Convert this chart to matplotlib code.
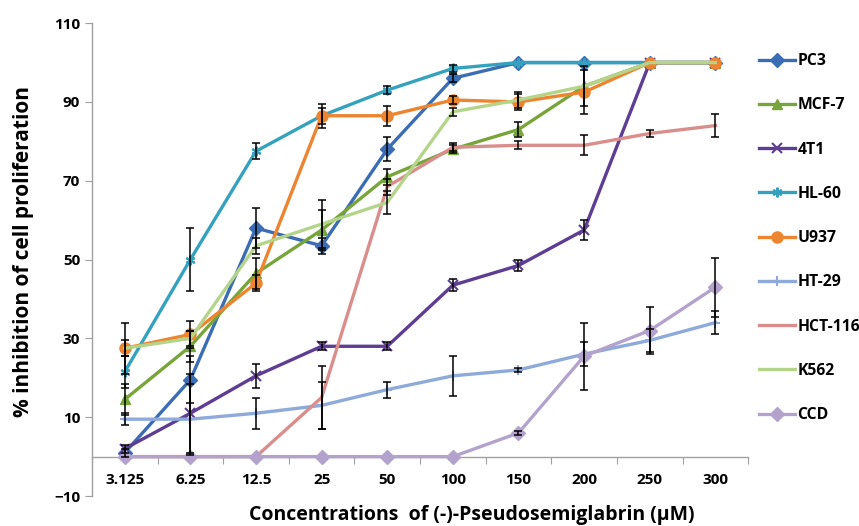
import numpy as np
import matplotlib
matplotlib.use("Agg")
import matplotlib.pyplot as plt

# Concentrations (categorical axis)
concentrations = ["3.125", "6.25", "12.5", "25", "50", "100", "150", "200", "250", "300"]

# % inhibition per cell line
pc3 = [1, 19.5, 58, 53.5, 78, 96, 100, 100, 100, 100]
mcf7 = [14.5, 28, 46.5, 57.5, 71, 78, 83, 94, 100, 100]
t41 = [2, 11, 20.5, 28, 28, 43.5, 48.5, 57.5, 100, 100]
hl60 = [21.5, 50, 77.5, 86.5, 93, 98.5, 100, 100, 100, 100]
u937 = [27.5, 31, 44, 86.5, 86.5, 90.5, 90, 92.5, 100, 100]
ht29 = [9.5, 9.5, 11, 13, 17, 20.5, 22, 26, 29.5, 34]
hct116 = [0, 0, 0, 15, 68.5, 78.5, 79, 79, 82, 84]
k562 = [27.5, 30, 53.5, 59, 64.5, 87.5, 90.5, 94, 100, 100]
ccd = [0, 0, 0, 0, 0, 0, 6, 25.5, 32, 43]

# error bars (SD)
pc3_err = [1, 6, 5, 2, 3, 1, 0, 0, 0, 0]
mcf7_err = [4, 4, 4, 5, 2, 1, 2, 0, 0, 0]
t41_err = [1, 10, 3, 1, 1, 1.5, 1.5, 2.5, 0, 0]
hl60_err = [4, 8, 2, 2, 1, 1, 0, 0, 0, 0]
u937_err = [6.5, 3.5, 2, 3, 2.5, 1, 2, 5.5, 0, 0]
ht29_err = [1.5, 9, 4, 6, 2, 5, 0.5, 3, 3, 3]
hct116_err = [0, 0, 0, 8, 2, 1, 1, 2.5, 1, 3]
k562_err = [2, 2, 2, 6, 3, 1, 2, 5, 0, 0]
ccd_err = [0, 0, 0, 0, 0, 0, 0.5, 8.5, 6, 7.5]

series = [
    ("PC3", pc3, pc3_err, "#3B6DB4", "D"),
    ("MCF-7", mcf7, mcf7_err, "#77A53A", "^"),
    ("4T1", t41, t41_err, "#5E3D92", "x"),
    ("HL-60", hl60, hl60_err, "#34A2BE", (6, 2, 0)),
    ("U937", u937, u937_err, "#EC8430", "o"),
    ("HT-29", ht29, ht29_err, "#8DAADB", "+"),
    ("HCT-116", hct116, hct116_err, "#DA8E8C", None),
    ("K562", k562, k562_err, "#B4D48A", None),
    ("CCD", ccd, ccd_err, "#B3A2CC", "D"),
]

plt.rcParams["font.family"] = ["Open Sans", "DejaVu Sans"]
plt.rcParams["font.weight"] = "bold"

fig = plt.figure(figsize=(8.59, 5.26), dpi=100)
ax = fig.add_axes([0.107, 0.057, 0.764, 0.899])

x = np.arange(len(concentrations))

for i, (name, vals, err, col, mk) in enumerate(series):
    thin = mk in ("x", "+", (6, 2, 0))
    ax.plot(x, vals, color=col, lw=2.4, marker=mk,
            markersize=8 if mk == "o" else 7,
            markeredgewidth=1.5 if thin else 1,
            markeredgecolor=col, label=name, zorder=3 + i)
    e = np.array(err, dtype=float)
    m = e > 0
    ax.errorbar(x[m], np.array(vals)[m], yerr=e[m], fmt="none", ecolor="black",
                elinewidth=1.1, capsize=3, capthick=1.1, zorder=20)

ax.set_xlim(-0.5, len(concentrations) - 0.5)
ax.set_ylim(-10, 110)
ax.set_yticks(np.arange(-10, 111, 20))

# category axis crossing at 0
ax.spines["bottom"].set_position(("data", 0))
ax.spines["top"].set_visible(False)
ax.spines["right"].set_visible(False)
for s in ("left", "bottom"):
    ax.spines[s].set_color("#A0A0A0")
    ax.spines[s].set_linewidth(1.0)

ax.set_xticks(np.arange(-0.5, len(concentrations), 1))
ax.set_xticklabels([])
ax.set_xticks(x, minor=True)
ax.set_xticklabels(concentrations, minor=True)
ax.tick_params(axis="x", which="major", direction="out", length=5, color="#A0A0A0")
ax.tick_params(axis="x", which="minor", length=0, pad=12, labelsize=11)
ax.tick_params(axis="y", direction="out", length=5, color="#A0A0A0", labelsize=11)
for lab in ax.get_xticklabels(minor=True) + ax.get_yticklabels():
    lab.set_fontweight("bold")

fig.text(0.549, 0.002, "Concentrations  of (-)-Pseudosemiglabrin (\u03bcM)",
         ha="center", va="bottom", fontsize=14, fontweight="bold")
fig.text(0.027, 0.521, "% inhibition of cell proliferation", rotation=90,
         ha="center", va="center", fontsize=15, fontweight="bold")

fig.legend(loc="upper left", bbox_to_anchor=(0.867, 0.926), frameon=False,
           labelspacing=1.8, handlelength=2.3, handletextpad=0.15,
           prop={"weight": "bold", "size": 11.3})

fig.savefig("out.png", dpi=100)
